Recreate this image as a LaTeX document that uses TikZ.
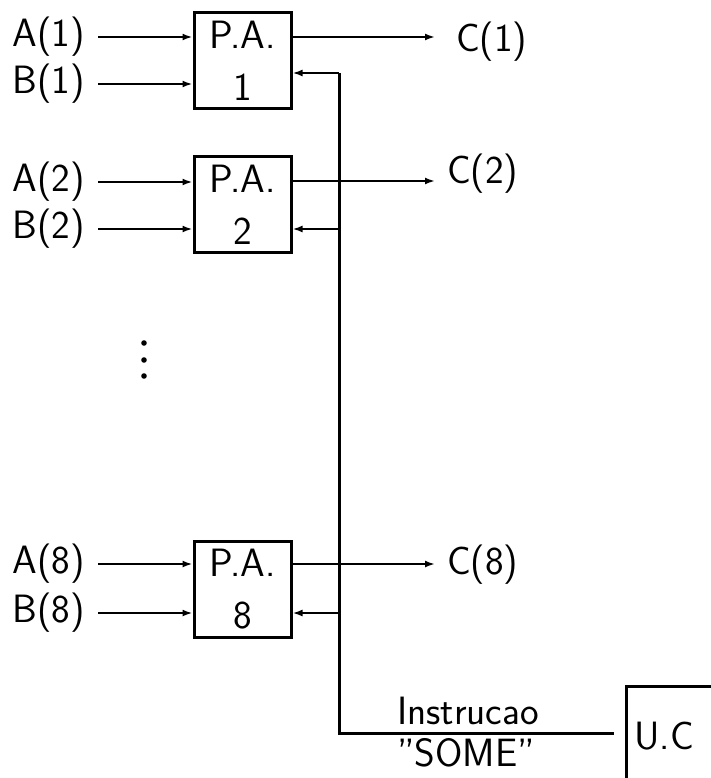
\documentclass[tikz,border=0pt]{standalone}
\usepackage{fontspec}
\usetikzlibrary{arrows.meta,calc}
\begin{document}
\begin{tikzpicture}[x=1pt,y=-1pt,
  every node/.style={font=\sffamily\fontsize{39.5}{52}\selectfont},
  pabox/.style={draw,line width=3pt,minimum width=97pt,minimum height=96pt,inner sep=0pt,align=center},
  inlbl/.style={anchor=east,inner xsep=13pt,inner ysep=0pt},
  outlbl/.style={anchor=west,inner xsep=12pt,inner ysep=0pt},
  sig/.style={line width=2pt,-{Latex[length=10pt,width=7pt]}},
  bus/.style={line width=3pt}]
\useasboundingbox (0,0) rectangle (711,778);
\begin{scope}
\clip (0,0) rectangle (711,778);
% boxes
\node[pabox] (b1) at (242.5,60.5) {P.A.\\1};
\node[pabox] (b2) at (242.5,204.5) {P.A.\\2};
\node[pabox] (b8) at (242.5,589) {P.A.\\8};
% input labels
\node[inlbl] (a1) at (98,37) {A(1)};
\node[inlbl] (bb1) at (98,84) {B(1)};
\node[inlbl] (a2) at (98,182) {A(2)};
\node[inlbl] (bb2) at (98,229) {B(2)};
\node[inlbl] (a8) at (98,564) {A(8)};
\node[inlbl] (bb8) at (98,613) {B(8)};
\draw[sig] (a1.east) -- (a1.east -| b1.west);
\draw[sig] (bb1.east) -- (bb1.east -| b1.west);
\draw[sig] (a2.east) -- (a2.east -| b2.west);
\draw[sig] (bb2.east) -- (bb2.east -| b2.west);
\draw[sig] (a8.east) -- (a8.east -| b8.west);
\draw[sig] (bb8.east) -- (bb8.east -| b8.west);
% outputs
\node[outlbl,inner xsep=21pt] (c1) at (435,42) {C(1)};
\node[outlbl] (c2) at (435,174) {C(2)};
\node[outlbl] (c8) at (435,565) {C(8)};
\coordinate (o1) at (435,37);
\coordinate (o2) at (435,181);
\coordinate (o8) at (435,564);
\draw[sig] (o1 -| b1.east) -- (o1);
\draw[sig] (o2 -| b2.east) -- (o2);
\draw[sig] (o8 -| b8.east) -- (o8);
% bus
\coordinate (f1) at (339,73);
\coordinate (f2) at (339,229);
\coordinate (f8) at (339,613);
\coordinate (bot) at (339,733);
\coordinate (bend) at (614,733);
\draw[bus] (f1) -- (bot) -- (bend);
\draw[sig] (f1) -- (f1 -| b1.east);
\draw[sig] (f2) -- (f2 -| b2.east);
\draw[sig] (f8) -- (f8 -| b8.east);
% labels on bus
\node (instr) at (468,711) {Instrucao};
\node (some) at (466,753) {''SOME''};
% U.C box
\node[draw,line width=3pt,anchor=north west,text width=100pt,inner xsep=8pt,inner ysep=0pt,minimum height=100pt,align=left] (uc) at (625,685) {U.C};
% dots
\fill (144,343) circle (2.8) (144,360) circle (2.8) (144,376) circle (2.8);
\end{scope}
\end{tikzpicture}
\end{document}
